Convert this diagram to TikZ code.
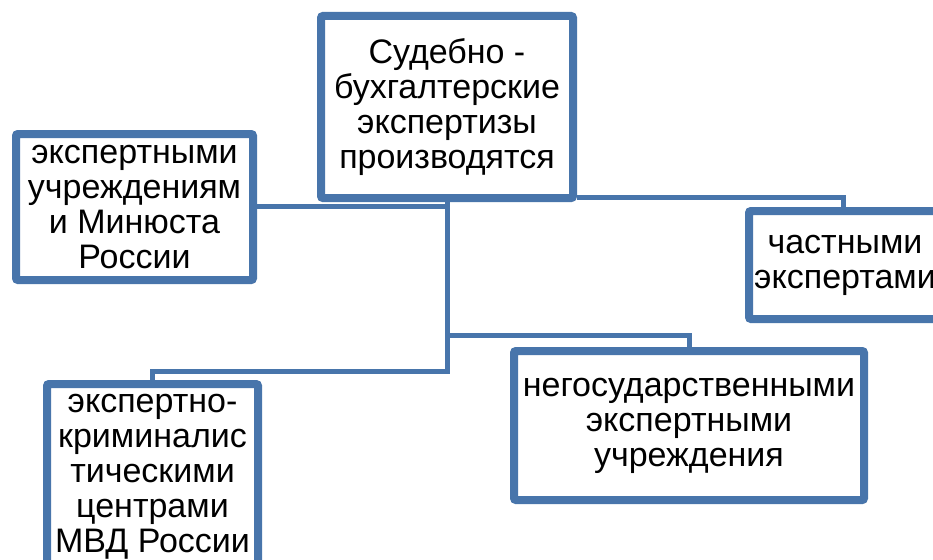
\documentclass[tikz,border=0pt]{standalone}
\usepackage{fontspec}
\setmainfont{Liberation Sans}
\usetikzlibrary{shadows}
\definecolor{boxblue}{RGB}{72,117,171}
\tikzset{
  orgbox/.style={draw=boxblue, line width=8pt, fill=white, rounded corners=2pt,
    align=center, inner sep=0pt, font=\fontsize{34}{35}\selectfont,
    drop shadow={opacity=0.35, shadow xshift=2.5pt, shadow yshift=-3.5pt}},
  conn/.style={draw=boxblue, line width=5pt}
}
\begin{document}
\begin{tikzpicture}[x=1pt,y=-1pt]
\useasboundingbox (0,0) rectangle (933,559);
\clip (0,0) rectangle (933,559);
\node[orgbox, minimum width=252pt, minimum height=182pt] (top) at (447,107)
  {Судебно -\\бухгалтерские\\экспертизы\\производятся};
\node[orgbox, minimum width=237pt, minimum height=146pt] (left) at (134.5,207)
  {экспертными\\учреждениям\\и Минюста\\России};
\node[orgbox, minimum width=192pt, minimum height=108pt] (right) at (845,265)
  {частными\\экспертами};
\node[orgbox, minimum width=350pt, minimum height=149pt] (ngo) at (689,425.5)
  {негосударственными\\экспертными\\учреждения};
\node[orgbox, minimum width=211pt, minimum height=186pt] (mvd) at (152.5,477)
  {экспертно-\\криминалис\\тическими\\центрами\\МВД России};
\coordinate (trunkTop) at (447,202);
\coordinate (jLeft) at (447,206.5);
\coordinate (jNgo) at (447,335.5);
\coordinate (jMvd) at (447,371);
\draw[conn] (trunkTop) -- (447,373.5);
\draw[conn] (left.east |- jLeft) -- (449.5,206.5);
\draw[conn] (jNgo) -| (ngo.north);
\draw[conn] (jMvd) -| (mvd.north);
\draw[conn] (top.east |- 0,197.5) -| (right.north -| 843,0);
\end{tikzpicture}
\end{document}
